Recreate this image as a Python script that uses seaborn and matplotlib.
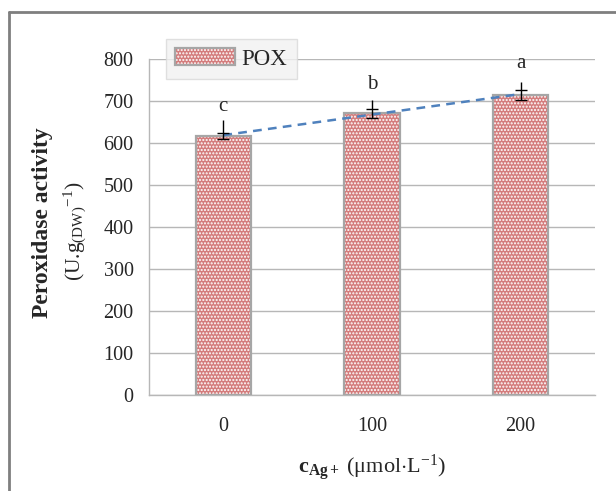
import numpy as np
import pandas as pd
import matplotlib
matplotlib.use("Agg")
import matplotlib.pyplot as plt
from matplotlib.lines import Line2D
from matplotlib.patches import Rectangle, Patch
import seaborn as sns

# Data
concentrations = ["0", "100", "200"]
pox_activity = [617, 671, 715]
pox_error = [8, 11, 12]
stub_top = [655, 702, 745]
letters = ["c", "b", "a"]
letter_y = [688, 740, 790]
y_ticks = [0, 100, 200, 300, 400, 500, 600, 700, 800]

BAR_FACE = "#d47c7c"
BAR_EDGE = "#a6a6a6"
GRID = "#b7b7b7"
TREND = "#4f81bd"

sns.set_style("white")
plt.rcParams["font.family"] = ["Liberation Serif", "DejaVu Serif"]
plt.rcParams["mathtext.fontset"] = "custom"
plt.rcParams["mathtext.rm"] = "Liberation Serif"
plt.rcParams["mathtext.bf"] = "Liberation Serif:bold"
plt.rcParams["mathtext.it"] = "Liberation Serif:italic"
plt.rcParams["hatch.linewidth"] = 1.0

df = pd.DataFrame({"conc": concentrations, "pox": pox_activity})

fig = plt.figure(figsize=(6.16, 4.91), dpi=100)
ax = fig.add_axes([149 / 616, 1 - 395 / 491, (595 - 149) / 616, (395 - 59) / 491])

sns.barplot(data=df, x="conc", y="pox", color=BAR_FACE, width=0.37,
            saturation=1, ax=ax, zorder=2)

# Excel-like dotted pattern: white hatch on pink, then a grey outline on top
for p in list(ax.patches):
    p.set_facecolor(BAR_FACE)
    p.set_edgecolor("white")
    p.set_hatch(".....")
    p.set_linewidth(0)
    ax.add_patch(Rectangle(p.get_xy(), p.get_width(), p.get_height(),
                           fill=False, edgecolor=BAR_EDGE, lw=1.6, zorder=3))

xpos = np.arange(len(concentrations))

# linear trendline
coef = np.polyfit(xpos, pox_activity, 1)
ax.plot(xpos, np.polyval(coef, xpos), color=TREND, lw=1.8,
        linestyle=(0, (3.5, 2.5)), zorder=4)

ax.errorbar(xpos, pox_activity, yerr=pox_error, fmt="none", ecolor="black",
            elinewidth=1, capsize=4, capthick=1, zorder=5)
upper = np.array(pox_activity) + np.array(pox_error)
ax.vlines(xpos, upper, stub_top, color="black", lw=1, zorder=5)

for x, lab, ly in zip(xpos, letters, letter_y):
    ax.text(x, ly, lab, ha="center", va="center", fontsize=15, clip_on=False)

ax.set_ylim(0, 800)
ax.set_xlim(-0.5, len(concentrations) - 0.5)
ax.set_yticks(y_ticks)
ax.yaxis.grid(True, color=GRID, lw=1)
ax.set_axisbelow(True)
for side in ["top", "right"]:
    ax.spines[side].set_visible(False)
for side in ["left", "bottom"]:
    ax.spines[side].set_color(GRID)
    ax.spines[side].set_linewidth(1)
ax.tick_params(axis="y", length=6, color=GRID, width=1, labelsize=14.5, pad=5)
ax.tick_params(axis="x", length=0, labelsize=14.5, pad=16)
ax.set_xlabel("")
ax.set_ylabel("")

fig.text(372 / 616, 1 - 468 / 491,
         r"$\mathbf{c}_{\mathbf{Ag+}}$ ($\mathrm{\mu}$mol$\cdot$L$^{-1}$)",
         ha="center", va="center", fontsize=16)
fig.text(43 / 616, 1 - 223 / 491, "Peroxidase activity", rotation=90,
         ha="center", va="center", fontsize=17, fontweight="bold")
fig.text(75 / 616, 1 - 231 / 491, r"(U.g$_{\mathrm{(DW)}}$$^{-1}$)", rotation=90,
         ha="center", va="center", fontsize=15.5)

handle = Patch(facecolor=BAR_FACE, edgecolor="white", hatch=".....", lw=0)
outline = Patch(fill=False, edgecolor=BAR_EDGE, lw=1.6)
leg = ax.legend([(handle, outline)], ["POX"], loc="upper left",
                bbox_to_anchor=(166 / 616, 1 - 39 / 491),
                bbox_transform=fig.transFigure, fontsize=16.5,
                handlelength=2.6, handleheight=0.75, handletextpad=0.3,
                borderpad=0.4, borderaxespad=0, fancybox=False,
                frameon=True)
leg.get_frame().set_facecolor("#f2f2f2")
leg.get_frame().set_edgecolor("#d9d9d9")
leg.get_frame().set_linewidth(1)
leg.set_zorder(6)

# outer frame of the screenshot
fig.add_artist(Line2D([8.5 / 616, 1], [1 - 11.5 / 491] * 2, color="#7f7f7f", lw=2))
fig.add_artist(Line2D([8.5 / 616] * 2, [0, 1 - 11.5 / 491], color="#7f7f7f", lw=2))

fig.savefig("out.png", dpi=100)
